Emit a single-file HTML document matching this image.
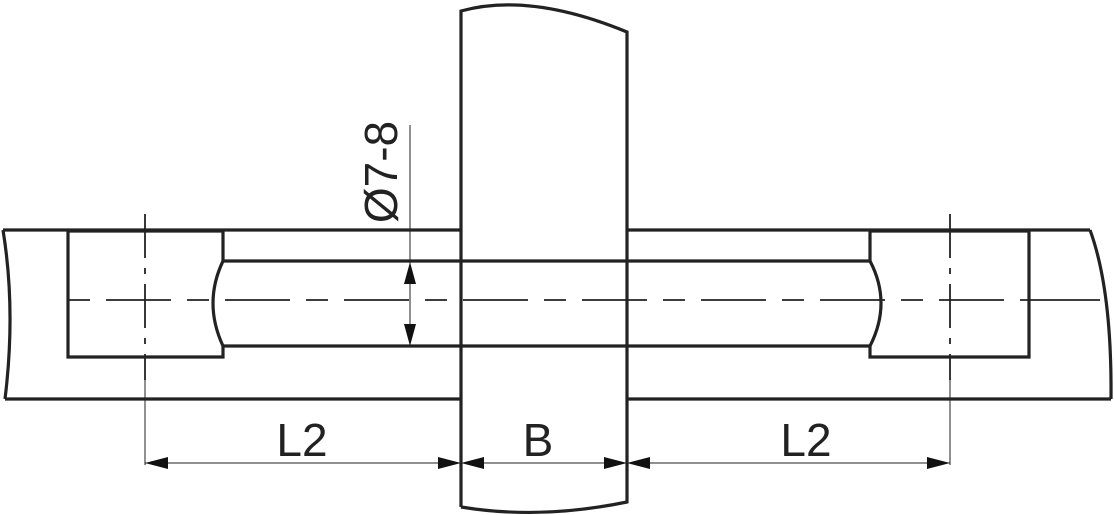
<!DOCTYPE html>
<html><head><meta charset="utf-8"><style>body{margin:0;background:#fff}svg{display:block}</style></head>
<body>
<svg width="1114" height="515" viewBox="0 0 1114 515" xmlns="http://www.w3.org/2000/svg">
<g fill="none" stroke="#222" stroke-width="3.2">
<path d="M461 507 L461 11 Q530 -8 627 32 L627 502 Q540 520 461 507"/>
<line x1="3" y1="230" x2="461" y2="230"/>
<line x1="5" y1="399" x2="461" y2="399"/>
<line x1="627" y1="230" x2="1090" y2="230"/>
<line x1="627" y1="399" x2="1111" y2="399"/>
<path d="M3 230 Q16 310 5 399"/>
<path d="M1090 230 Q1112 290 1111 399"/>
<path d="M223 261 L223 231 L68 231 L68 357 L223 357 L223 346"/>
<path d="M223 261 Q203 303 223 346"/>
<line x1="223" y1="261" x2="870" y2="261"/>
<line x1="223" y1="346" x2="870" y2="346"/>
<path d="M870 261 L870 231 L1029 231 L1029 357 L870 357 L870 346"/>
<path d="M870 261 Q892 303 870 346"/>
</g>
<g stroke="#222" stroke-width="1.8" fill="none">
<line x1="68" y1="300" x2="1029" y2="300" stroke-dasharray="22,16,65,16"/>
<line x1="1029" y1="300" x2="1100" y2="300"/>
<line x1="145" y1="214" x2="145" y2="380" stroke-dasharray="44,10,6,10"/>
<line x1="950" y1="214" x2="950" y2="380" stroke-dasharray="44,10,6,10"/>
</g>
<g stroke="#222" stroke-width="1" fill="none">
<line x1="145" y1="380" x2="145" y2="465"/>
<line x1="950" y1="380" x2="950" y2="465"/>
<line x1="145" y1="463" x2="950" y2="463"/>
<line x1="410" y1="125" x2="410" y2="346"/>
</g>
<g fill="#111">
<polygon points="145,463 168,457 168,469"/>
<polygon points="461,463 438,457 438,469"/>
<polygon points="461,463 484,457 484,469"/>
<polygon points="627,463 604,457 604,469"/>
<polygon points="627,463 650,457 650,469"/>
<polygon points="950,463 927,457 927,469"/>
<polygon points="410,262 404,284 416,284"/>
<polygon points="410,346 404,324 416,324"/>
</g>
<g font-family="Liberation Sans, sans-serif" fill="#222" font-size="46">
<text x="302" y="456" text-anchor="middle">L2</text>
<text x="538" y="456" text-anchor="middle">B</text>
<text x="806" y="456" text-anchor="middle">L2</text>
<text transform="translate(397,172) rotate(-90)" text-anchor="middle">Ø7-8</text>
</g>
</svg>
</body></html>
